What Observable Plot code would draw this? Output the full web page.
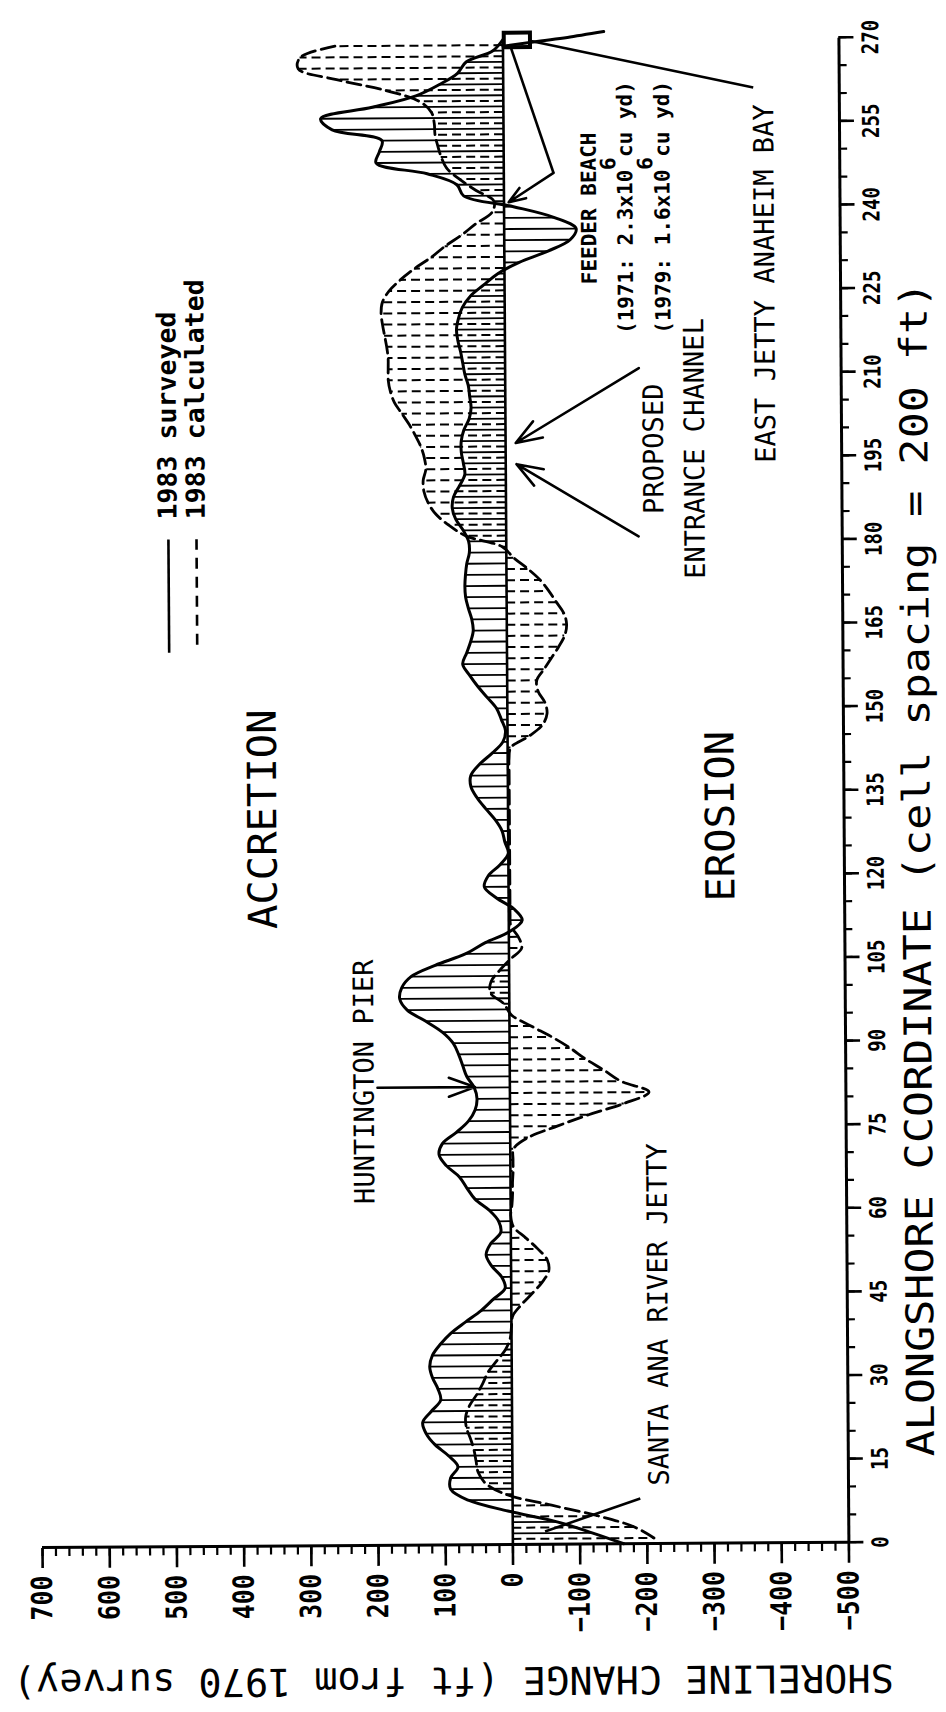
<!DOCTYPE html>
<html>
<head>
<meta charset="utf-8">
<script src="https://cdn.jsdelivr.net/npm/d3@7"></script>
<script src="https://cdn.jsdelivr.net/npm/@observablehq/plot@0.6"></script>
<style>
  html, body { margin: 0; padding: 0; background: #fff; }
  #page { position: relative; width: 946px; height: 1712px; overflow: hidden; background: #fff; }
  #chart { position: absolute; left: 0; top: 0; width: 1712px; height: 946px;
    transform-origin: 0 0;
    transform: translate(508px, 790px) rotate(-0.38deg) translate(-508px, -790px) translate(0px, 1712px) rotate(-90deg); }
</style>
</head>
<body>
<div id="page"><div id="chart"></div></div>
<script>
// ---- data: alongshore cell (200 ft spacing) and shoreline change (ft from 1970 survey)
const surveyedCell = [0,2,4,6,8,10,12,14,16,18,20,22,24,26,28,30,32,34,36,38,40,42,44,46,48,50,52,54,56,58,60,62,64,66,68,70,72,74,76,78,80,82,84,86,88,90,92,94,96,98,100,102,104,106,108,110,112,114,116,118,120,122,124,126,128,130,132,134,136,138,140,142,144,146,148,150,152,154,156,158,160,162,164,166,168,170,172,174,176,178,180,182,184,186,188,190,192,194,196,198,200,202,204,206,208,210,212,214,216,218,220,222,224,226,228,230,232,234,236,238,240,242,244,246,248,250,252,254,256,258,260,262,264,266,268,270];
const surveyedChange = [-165,-118,-66,7,66,92,92,81,95,115,
  128,133,120,106,110,118,122,118,106,90,
  68,45,27,9,14,29,37,30,15,18,
  32,53,65,76,95,106,101,80,62,52,
  49,53,64,70,76,84,100,125,152,163,
  160,146,110,65,35,-2,-20,-8,18,36,
  30,12,0,5,9,19,33,46,55,55,
  42,23,7,3,9,16,30,44,56,66,
  60,54,50,52,57,61,62,61,59,55,
  56,64,75,80,78,69,61,63,66,66,
  62,54,51,53,55,60,63,66,70,72,
  69,63,51,31,10,-22,-65,-98,-107,-75,
  -14,60,70,114,190,185,181,255,272,195,
  130,95,68,55,15,0];

const calculatedCell = [1,3,5,7,9,11,13,15,17,19,21,23,25,27,29,31,33,35,37,39,41,43,45,47,49,51,53,55,57,59,61,63,65,67,69,71,73,75,77,79,81,83,85,87,89,91,93,95,97,99,101,103,105,107,109,111,113,115,117,119,121,123,125,127,129,131,133,135,137,139,141,143,145,147,149,151,153,155,157,159,161,163,165,167,169,171,173,175,177,179,181,183,185,187,189,191,193,195,197,199,201,203,205,207,209,211,213,215,217,219,221,223,225,227,229,231,233,235,237,239,241,243,245,247,249,251,253,255,257,259,261,263,265,267,269];
const calculatedChange = [-210,-181,-128,-58,10,40,51,54,57,62,
  68,69,63,52,43,35,22,9,2,0,
  -2,-15,-31,-46,-56,-54,-40,-22,-4,0,
  -2,-3,-3,-4,-4,-5,-27,-70,-117,-170,
  -207,-165,-140,-113,-90,-63,-32,-3,8,28,
  27,14,-2,-19,-14,-3,-2,-2,-2,-2,
  -2,-2,-2,-2,-2,-2,-2,-2,-2,-2,
  -2,-5,-32,-52,-59,-56,-46,-44,-55,-66,
  -77,-86,-89,-85,-74,-63,-50,-32,-11,6,
  60,86,105,116,122,123,119,121,126,134,
  143,154,165,171,174,174,174,176,179,182,
  184,182,172,155,134,109,88,63,42,18,
  15,42,66,85,93,98,102,103,107,125,
  175,248,305,302,250];

const shorelineTicks = [-500,-400,-300,-200,-100,0,100,200,300,400,500,600,700];
const alongshoreTicks = [0,15,30,45,60,75,90,105,120,135,150,165,180,195,210,225,240,255,270];
const legendLabels = ["1983 surveyed", "1983 calculated"];
const yTitle = "SHORELINE CHANGE (ft from 1970 survey)";
const xTitle = "ALONGSHORE CCORDINATE (cell spacing = 200 ft)";

// ---- tables built from the arrays
const surveyed = surveyedCell.map((a, i) => ({a, v: surveyedChange[i]}));
const calculated = calculatedCell.map((a, i) => ({a, v: calculatedChange[i]}));

// annotation anchors (data space)
const bigLabels = [{a: 130.4, v: 364, t: "ACCRETION"}, {a: 130.4, v: -317, t: "EROSION"}];
const midLabels = [
  {a: 83.2, v: 216, t: "HUNTINGTON PIER"},
  {a: 41.1, v: -219, t: "SANTA ANA RIVER JETTY"},
  {a: 196.4, v: -221, t: "PROPOSED"},
  {a: 196.4, v: -282, t: "ENTRANCE CHANNEL"},
  {a: 225.9, v: -388, t: "EAST JETTY ANAHEIM BAY"}
];
const feederLabels = [
  {a: 239.6, v: -127, t: "FEEDER BEACH"},
  {a: 239.7, v: -181, t: "(1971: 2.3x10 cu yd)"},
  {a: 239.7, v: -236.5, t: "(1979: 1.6x10 cu yd)"},
  {a: 247.6, v: -156, t: "6"},
  {a: 247.6, v: -211, t: "6"}
];
const legendItems = [
  {t: legendLabels[0], a1: 160.4, a2: 180.7, at: 184.3, v: 502.7},
  {t: legendLabels[1], a1: 161.8, a2: 180.7, at: 184.3, v: 460.9}
];
const arrows = [
  {a1: 82.1, v1: 197, a2: 82.1, v2: 52},          // Huntington Pier
  {a1: 210.9, v1: -199, a2: 197.6, v2: -15},      // proposed channel
  {a1: 180.7, v1: -197, a2: 193.8, v2: -16},
  {a1: 246.0, v1: -74, a2: 240.8, v2: -7}         // feeder beach
];
const pointers = [
  {a1: 8.1, v1: -190, a2: 2.3, v2: -48},          // Santa Ana River jetty
  {a1: 261.1, v1: -372, a2: 269.8, v2: -38},      // East jetty
  {a1: 268.8, v1: -11, a2: 246.0, v2: -74}        // feeder path
];
const jettyLine = [{a: 268.8, v: 0}, {a: 269.7, v: -56}, {a: 270.3, v: -96}, {a: 271.3, v: -150}];
const jettyHead = [{a1: 268.7, a2: 271.3, v1: -2, v2: -41}];

const MONO = "'DejaVu Sans Mono', 'Liberation Mono', monospace";
const tag = name => () => name;

const chart = Plot.plot({
  width: 1712,
  height: 946,
  marginLeft: 167,
  marginRight: 40,
  marginTop: 37,
  marginBottom: 102.6,
  x: {domain: [0, 270], label: null},
  y: {domain: [-500, 700], label: null},
  style: {fontFamily: MONO, background: "white", color: "black", overflow: "visible"},
  marks: [
    // hatching
    Plot.ruleX(surveyed, {x: "a", y1: 0, y2: "v", stroke: "black", strokeWidth: 1.8}),
    Plot.ruleX(calculated, {x: "a", y1: 0, y2: "v", stroke: "black", strokeWidth: 2, strokeDasharray: "9,5"}),
    // curves
    Plot.line(calculated, {x: "a", y: "v", curve: "catmull-rom", stroke: "black", strokeWidth: 2.8, strokeDasharray: "14,6"}),
    Plot.line(surveyed, {x: "a", y: "v", curve: "catmull-rom", stroke: "black", strokeWidth: 3}),
    // zero line and axis lines
    Plot.ruleY([0], {stroke: "black", strokeWidth: 2.6}),
    Plot.ruleX([0], {stroke: "black", strokeWidth: 3}),
    Plot.ruleY([-500], {stroke: "black", strokeWidth: 3}),
    // axes
    Plot.axisY(d3.range(-500, 701, 20), {anchor: "left", tickSize: 8, tickFormat: () => "", strokeWidth: 2.2, label: null}),
    Plot.axisY(shorelineTicks, {anchor: "left", tickSize: 20, tickPadding: 8, strokeWidth: 2.6, fontSize: 29, fontWeight: "bold", label: null,
      tickFormat: d => d < 0 ? "\u2212" + (-d) : String(d)}),
    Plot.axisX(d3.range(0, 271, 5), {anchor: "bottom", tickSize: 8, tickFormat: () => "", strokeWidth: 2.2, label: null}),
    Plot.axisX(alongshoreTicks, {anchor: "bottom", tickSize: 15, tickPadding: 8, strokeWidth: 2.6, fontSize: 23, fontWeight: "bold", label: null,
      tickFormat: d => String(d)}),
    // axis titles
    Plot.text([yTitle], {frameAnchor: "left", rotate: -90, dx: -135, dy: 6.8, fontSize: 38.5, textAnchor: "middle", lineAnchor: "middle"}),
    Plot.text([xTitle], {frameAnchor: "bottom", dx: -79.8, dy: 73.6, fontSize: 38, textAnchor: "middle", lineAnchor: "middle", ariaLabel: tag("x-title")}),
    // legend
    Plot.link(legendItems.slice(0, 1), {x1: "a1", x2: "a2", y1: "v", y2: "v", stroke: "black", strokeWidth: 2.6}),
    Plot.link(legendItems.slice(1), {x1: "a1", x2: "a2", y1: "v", y2: "v", stroke: "black", strokeWidth: 2.6, strokeDasharray: "11,8"}),
    Plot.text(legendItems, {x: "at", y: "v", text: "t", textAnchor: "start", fontSize: 26, fontWeight: "bold", ariaLabel: tag("legend-text")}),
    // annotations
    Plot.text(bigLabels, {x: "a", y: "v", text: "t", fontSize: 40, ariaLabel: tag("big-label")}),
    Plot.text(midLabels, {x: "a", y: "v", text: "t", fontSize: 28, ariaLabel: tag("mid-label")}),
    Plot.text(feederLabels, {x: "a", y: "v", text: "t", fontSize: 21, fontWeight: "bold"}),
    Plot.link(pointers, {x1: "a1", y1: "v1", x2: "a2", y2: "v2", stroke: "black", strokeWidth: 2.6}),
    Plot.arrow(arrows, {x1: "a1", y1: "v1", x2: "a2", y2: "v2", stroke: "black", strokeWidth: 2.6, headLength: 16, headAngle: 40}),
    Plot.line(jettyLine, {x: "a", y: "v", curve: "natural", stroke: "black", strokeWidth: 3}),
    Plot.rect(jettyHead, {x1: "a1", x2: "a2", y1: "v1", y2: "v2", fill: "none", stroke: "black", strokeWidth: 4})
  ]
});

// condense the plotter-style lettering
function fit(nodes, pitch) {
  nodes.forEach(t => {
    const s = t.textContent;
    if (!s) return;
    t.setAttribute("textLength", (s.length * pitch).toFixed(1));
    t.setAttribute("lengthAdjust", "spacingAndGlyphs");
  });
}
fit(chart.querySelectorAll('g[aria-label="y-axis tick label"] text'), 15);
fit(chart.querySelectorAll('g[aria-label="x-axis tick label"] text'), 11.5);
fit(chart.querySelectorAll('text[aria-label="x-title"]'), 26.1);
fit(chart.querySelectorAll('text[aria-label="big-label"]'), 24.4);
fit(chart.querySelectorAll('text[aria-label="mid-label"]'), 16.3);
fit(chart.querySelectorAll('text[aria-label="legend-text"]'), 16);

document.getElementById("chart").appendChild(chart);
</script>
</body>
</html>
